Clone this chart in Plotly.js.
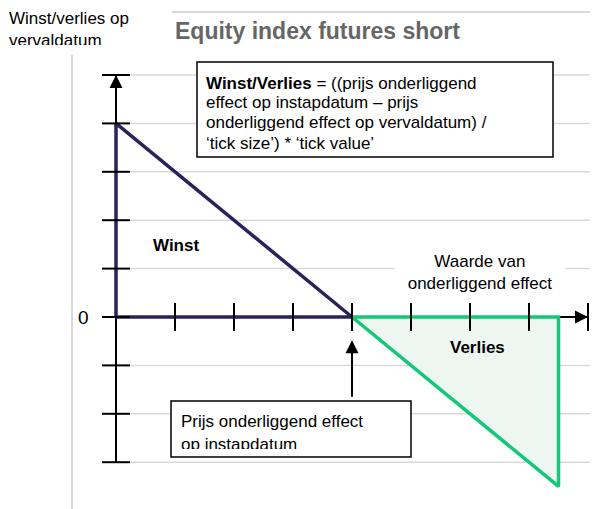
<!DOCTYPE html>
<html>
<head>
<meta charset="utf-8">
<script src="https://cdn.plot.ly/plotly-3.0.1.min.js"></script>
<style>html,body{margin:0;padding:0;background:#fff;}#chart{width:595px;height:509px;}</style>
</head>
<body>
<div id="chart"></div>
<script>
// ---- data (diagram units) ----
const xTicks = [1, 2, 3, 4, 5, 6, 7, 8];
const yTicks = [-3, -2, -1, 0, 1, 2, 3, 4, 5];
const gridY = [-3, -2, -1, 1, 2, 3, 4, 5];
const winstX = [0, 0, 4, 0];
const winstY = [0, 4, 0, 0];
const verliesX = [4, 7.5, 7.5, 4];
const verliesY = [0, 0, -3.5, 0];
const xAxisEnd = 8;
const yAxisTop = 5;
const yAxisBottom = -3;
const entryPrice = 4;
const formulaLines = [
  "<b>Winst/Verlies</b> = ((prijs onderliggend",
  "effect op instapdatum \u2013 prijs",
  "onderliggend effect op vervaldatum) /",
  "\u2018tick size\u2019) * \u2018tick value\u2019"
];
const entryLines = ["Prijs onderliggend effect", "op instapdatum"];

// ---- layout helpers ----
const W = 595, H = 509;
const px = v => v / W;
const py = v => 1 - v / H;
const FONT = "Liberation Sans, Arial, sans-serif";
const navy = "#29235c";
const green = "#14c87a";
const grid = "#d9d9d9";

const traces = [
  {x: verliesX, y: verliesY, mode: "lines", fill: "toself", fillcolor: "#eef6f2",
   line: {color: green, width: 3.5}, hoverinfo: "skip"},
  {x: winstX, y: winstY, mode: "lines", fill: "toself", fillcolor: "rgba(255,255,255,0)",
   line: {color: navy, width: 3.5}, hoverinfo: "skip"},
  {x: yTicks.map(() => 0), y: yTicks, mode: "markers",
   marker: {symbol: "line-ew", size: 20, line: {color: "#000", width: 2}}, hoverinfo: "skip"},
  {x: xTicks, y: xTicks.map(() => 0), mode: "markers",
   marker: {symbol: "line-ns", size: 20, line: {color: "#000", width: 2}}, hoverinfo: "skip"}
];

const shapes = [];
// frame pieces
shapes.push({type: "line", xref: "paper", yref: "paper", x0: px(72), x1: px(72), y0: py(55), y1: py(509), line: {color: grid, width: 2}, layer: "below"});
shapes.push({type: "line", xref: "paper", yref: "paper", x0: px(172), x1: px(590), y0: py(12), y1: py(12), line: {color: grid, width: 2}, layer: "below"});
// gridlines
gridY.forEach(g => shapes.push({type: "line", xref: "x", yref: "y", x0: 0.14, x1: 8.03, y0: g, y1: g,
  line: {color: grid, width: 1.5}, layer: "below"}));
// axis lines
shapes.push({type: "line", xref: "x", yref: "y", x0: 0, x1: 0, y0: yAxisBottom, y1: yAxisTop, line: {color: "#000", width: 2}, layer: "below"});
shapes.push({type: "line", xref: "x", yref: "y", x0: 0, x1: xAxisEnd, y0: 0, y1: 0, line: {color: "#000", width: 2}, layer: "below"});
// formula box
shapes.push({type: "rect", xref: "paper", yref: "paper", x0: px(197), x1: px(553), y0: py(62), y1: py(157),
  line: {color: "#000", width: 1.5}, fillcolor: "#fff", layer: "above"});
// entry box
shapes.push({type: "rect", xref: "paper", yref: "paper", x0: px(171), x1: px(411), y0: py(401), y1: py(457),
  line: {color: "#000", width: 1.5}, fillcolor: "#fff", layer: "above"});

const annotations = [];
// axis arrowheads
annotations.push({x: 0, y: yAxisTop, xref: "x", yref: "y", axref: "x", ayref: "y", ax: 0, ay: yAxisTop - 0.6,
  text: "", showarrow: true, arrowhead: 2, arrowsize: 1.3, arrowwidth: 2, arrowcolor: "#000", standoff: 0});
annotations.push({x: xAxisEnd, y: 0, xref: "x", yref: "y", axref: "x", ayref: "y", ax: xAxisEnd - 0.4, ay: 0,
  text: "", showarrow: true, arrowhead: 2, arrowsize: 1.3, arrowwidth: 2, arrowcolor: "#000", standoff: 0});
// entry arrow
annotations.push({x: entryPrice, y: -0.48, xref: "x", yref: "y", axref: "x", ayref: "y", ax: entryPrice, ay: -1.68,
  text: "", showarrow: true, arrowhead: 2, arrowsize: 1.3, arrowwidth: 2, arrowcolor: "#000", standoff: 0});

// y label
annotations.push({xref: "paper", yref: "paper", x: px(7), y: py(7), xanchor: "left", yanchor: "top", align: "left",
  text: "Winst/verlies op<br>vervaldatum", showarrow: false, font: {family: FONT, size: 17, color: "#000"}});
// formula lines
const fy = [83, 103, 123, 143];
formulaLines.forEach((t, i) => annotations.push({xref: "paper", yref: "paper", x: px(204), y: py(fy[i]),
  xanchor: "left", yanchor: "middle", align: "left", text: t, showarrow: false,
  font: {family: FONT, size: 17, color: "#000"}}));
// entry box text
const ey = [421, 444];
entryLines.forEach((t, i) => annotations.push({xref: "paper", yref: "paper", x: px(179), y: py(ey[i]),
  xanchor: "left", yanchor: "middle", align: "left", text: t, showarrow: false,
  font: {family: FONT, size: 17, color: "#000"}}));
// clipping covers (text boxes cut off at their bottom edge in the original)
annotations.push({xref: "paper", yref: "paper", x: px(0), y: py(45), xanchor: "left", yanchor: "top",
  text: "&nbsp;", showarrow: false, bgcolor: "#fff", width: 150, height: 9, borderpad: 0, borderwidth: 0,
  font: {size: 1, color: "#fff"}});
annotations.push({xref: "paper", yref: "paper", x: px(173), y: py(449), xanchor: "left", yanchor: "top",
  text: "&nbsp;", showarrow: false, bgcolor: "#fff", width: 236, height: 6.5, borderpad: 0, borderwidth: 0,
  font: {size: 1, color: "#fff"}});
// labels
annotations.push({xref: "paper", yref: "paper", x: px(176), y: py(245), xanchor: "center", yanchor: "middle",
  text: "<b>Winst</b>", showarrow: false, font: {family: FONT, size: 17, color: "#000"}});
annotations.push({xref: "paper", yref: "paper", x: px(477), y: py(347), xanchor: "center", yanchor: "middle",
  text: "<b>Verlies</b>", showarrow: false, font: {family: FONT, size: 17, color: "#000"}});
annotations.push({xref: "paper", yref: "paper", x: px(480), y: py(272), xanchor: "center", yanchor: "middle",
  text: "Waarde van<br>onderliggend effect", showarrow: false, bgcolor: "#fff", width: 168,
  font: {family: FONT, size: 17, color: "#000"}});
annotations.push({xref: "paper", yref: "paper", x: px(83), y: py(317), xanchor: "center", yanchor: "middle",
  text: "0", showarrow: false, font: {family: FONT, size: 19, color: "#000"}});

const layout = {
  width: W, height: H,
  margin: {l: 0, r: 0, t: 0, b: 0, pad: 0},
  paper_bgcolor: "#fff", plot_bgcolor: "#fff",
  showlegend: false,
  title: {text: "<b>Equity index futures short</b>", x: px(175), xanchor: "left", xref: "paper",
    y: py(31), yanchor: "middle", yref: "paper", font: {family: FONT, size: 23, color: "#666666"}},
  xaxis: {range: [-116 / 59, 479 / 59], visible: false, fixedrange: true},
  yaxis: {range: [(317 - 509) / 48.4, 317 / 48.4], visible: false, fixedrange: true},
  shapes: shapes,
  annotations: annotations
};

Plotly.newPlot("chart", traces, layout, {displayModeBar: false, staticPlot: true});
</script>
</body>
</html>
